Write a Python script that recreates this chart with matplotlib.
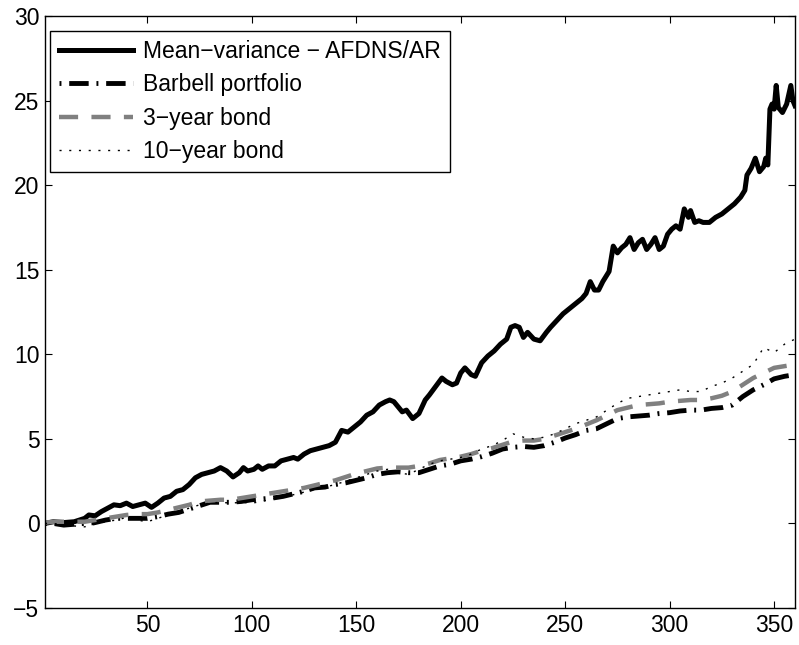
import matplotlib
matplotlib.use("Agg")
import matplotlib.pyplot as plt

plt.rcParams['font.family'] = ['Liberation Sans', 'DejaVu Sans']

mv_x = [1, 5, 10, 15, 20, 22, 25, 28, 31, 34, 37, 40, 43, 46, 49, 52, 55, 58, 61, 64,
        67, 70, 73, 76, 79, 82, 85, 88, 91, 94, 96, 98, 101, 103, 105, 108, 111, 114, 117, 120,
        122, 125, 128, 131, 134, 137, 140, 143, 146, 149, 152, 155, 158, 161, 164, 166, 168, 170, 172, 174,
        177, 180, 183, 185, 188, 191, 193, 196, 198, 200, 202, 205, 207, 210, 213, 216, 219, 222, 224, 226,
        228, 230, 232, 235, 238, 241, 243, 246, 249, 252, 255, 258, 260, 262, 264, 266, 268, 271, 273, 275,
        277, 279, 281, 283, 285, 287, 289, 291, 293, 295, 297, 299, 301, 303, 305, 307, 309, 310, 312, 314,
        316, 319, 322, 325, 328, 331, 334, 336, 337, 339, 341, 343, 345, 346, 347, 348, 349, 350, 351, 352,
        354, 356, 358, 359, 360]
mv_y = [0.0, 0.1, 0.05, 0.1, 0.3, 0.5, 0.45, 0.7, 0.9, 1.1, 1.05, 1.2, 1.0, 1.1, 1.2, 0.95, 1.2, 1.5, 1.6, 1.9,
        2.0, 2.3, 2.7, 2.9, 3.0, 3.1, 3.3, 3.1, 2.75, 3.0, 3.3, 3.1, 3.2, 3.4, 3.2, 3.4, 3.4, 3.7, 3.8, 3.9,
        3.8, 4.1, 4.3, 4.4, 4.5, 4.6, 4.8, 5.5, 5.4, 5.7, 6.0, 6.4, 6.6, 7.0, 7.2, 7.3, 7.2, 6.9, 6.6, 6.7,
        6.2, 6.5, 7.3, 7.6, 8.1, 8.6, 8.4, 8.2, 8.3, 8.9, 9.2, 8.8, 8.7, 9.5, 9.9, 10.2, 10.6, 10.9, 11.6, 11.7,
        11.6, 11.0, 11.3, 10.9, 10.8, 11.3, 11.6, 12.0, 12.4, 12.7, 13.0, 13.3, 13.6, 14.3, 13.8, 13.8, 14.3, 14.9, 16.4, 16.0,
        16.3, 16.5, 16.9, 16.2, 16.6, 16.8, 16.2, 16.5, 16.9, 16.2, 16.4, 17.1, 17.4, 17.6, 17.4, 18.6, 18.1, 18.5, 17.8, 17.9,
        17.8, 17.8, 18.1, 18.3, 18.6, 18.9, 19.3, 19.7, 20.6, 21.0, 21.6, 20.8, 21.1, 21.6, 21.2, 24.5, 24.8, 24.5, 25.9, 24.6,
        24.3, 24.8, 25.9, 25.0, 24.7]

bond_x = [1, 5, 10, 15, 20, 25, 30, 35, 40, 45, 50, 55, 60, 65, 70, 75, 80, 85, 90, 95,
          100, 105, 110, 115, 120, 125, 130, 135, 140, 145, 150, 155, 160, 165, 170, 175, 180, 185, 190, 195,
          200, 205, 210, 215, 220, 225, 230, 235, 240, 245, 250, 255, 260, 265, 270, 275, 280, 285, 290, 295,
          300, 305, 310, 315, 320, 325, 330, 335, 340, 345, 350, 355, 360]
barbell_y = [0.0, 0.0, -0.1, -0.05, 0.0, 0.05, 0.2, 0.3, 0.3, 0.3, 0.3, 0.4, 0.55, 0.65, 0.85, 1.05, 1.25, 1.25, 1.25, 1.3,
             1.4, 1.45, 1.5, 1.6, 1.75, 1.9, 2.1, 2.15, 2.3, 2.4, 2.55, 2.7, 2.9, 3.0, 3.05, 3.0, 3.0, 3.2, 3.4, 3.5,
             3.7, 3.8, 3.95, 4.15, 4.4, 4.5, 4.55, 4.5, 4.6, 4.8, 5.05, 5.25, 5.5, 5.6, 5.9, 6.2, 6.3, 6.35, 6.4, 6.5,
             6.55, 6.65, 6.7, 6.7, 6.8, 6.85, 7.0, 7.5, 7.9, 8.2, 8.55, 8.7, 8.8]
bond3_y = [0.05, 0.1, 0.1, 0.1, 0.1, 0.2, 0.3, 0.4, 0.5, 0.55, 0.55, 0.65, 0.8, 0.95, 1.1, 1.3, 1.35, 1.4, 1.4, 1.5,
           1.6, 1.7, 1.8, 1.9, 2.0, 2.1, 2.25, 2.4, 2.55, 2.75, 2.95, 3.1, 3.25, 3.3, 3.3, 3.3, 3.4, 3.55, 3.75, 3.85,
           3.95, 4.1, 4.3, 4.45, 4.65, 4.85, 4.9, 4.9, 5.0, 5.2, 5.4, 5.6, 5.85, 6.1, 6.4, 6.7, 6.85, 7.0, 7.05, 7.1,
           7.2, 7.25, 7.3, 7.3, 7.4, 7.55, 7.8, 8.2, 8.6, 8.9, 9.2, 9.3, 9.4]
bond10_y = [0.0, 0.0, -0.1, -0.15, -0.2, -0.05, 0.1, 0.2, 0.35, 0.2, 0.1, 0.3, 0.5, 0.7, 0.9, 1.1, 1.2, 1.25, 1.2, 1.25,
            1.2, 1.3, 1.45, 1.55, 1.7, 1.85, 2.0, 2.15, 2.3, 2.5, 2.7, 2.9, 3.1, 3.2, 3.0, 2.9, 3.2, 3.5, 3.7, 3.8,
            3.9, 4.1, 4.4, 4.6, 4.9, 5.3, 5.1, 5.0, 5.1, 5.3, 5.6, 5.9, 6.1, 6.3, 6.7, 7.1, 7.4, 7.5, 7.6, 7.7,
            7.8, 7.9, 7.8, 7.8, 8.1, 8.3, 8.6, 9.0, 9.4, 10.4, 10.1, 10.6, 10.9]

labels = ['Mean\u2212variance \u2212 AFDNS/AR', 'Barbell portfolio', '3\u2212year bond', '10\u2212year bond']
x_ticks = [50, 100, 150, 200, 250, 300, 350]
y_ticks = [-5, 0, 5, 10, 15, 20, 25, 30]

fig = plt.figure(figsize=(7.99, 6.45), dpi=100)
ax = fig.add_axes([0.0563, 0.0574, 0.9387, 0.9176])

ax.plot(mv_x, mv_y, color='black', lw=3.6, solid_joinstyle='round', label=labels[0])
ax.plot(bond_x, barbell_y, color='black', lw=3.5, linestyle=(0, (0.4, 1.6, 4.0, 1.6)), label=labels[1])
ax.plot(bond_x, bond3_y, color='#808080', lw=3.2, linestyle=(0, (4.3, 3.0)), label=labels[2])
ax.plot(bond_x, bond10_y, color='black', lw=1.0, linestyle=(0, (1.5, 5.5)), label=labels[3])

ax.set_xlim(1, 360)
ax.set_ylim(-5, 30)
ax.set_xticks(x_ticks)
ax.set_yticks(y_ticks)
ax.tick_params(direction='in', length=5, width=0.8, top=True, right=True, labelsize=16.5, pad=4)
for s in ax.spines.values():
    s.set_linewidth(1.0)

leg = ax.legend(loc='upper left', bbox_to_anchor=(0.0067, 0.975), fontsize=16.5, frameon=True, fancybox=False,
                edgecolor='black', framealpha=1, handlelength=3.2, labelspacing=0.45, borderpad=0.4,
                handletextpad=0.45, borderaxespad=0)
leg.get_frame().set_linewidth(1.0)

fig.savefig('out.png', dpi=100)
